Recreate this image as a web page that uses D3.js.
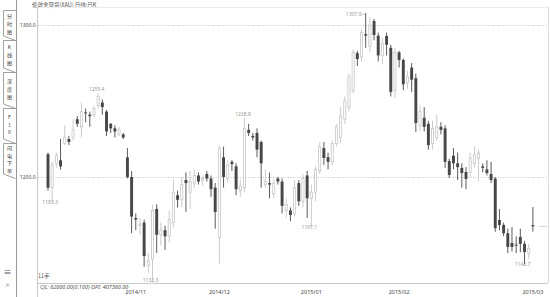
<!DOCTYPE html>
<html><head><meta charset="utf-8">
<script src="https://cdn.jsdelivr.net/npm/d3@7"></script>
<style>
html,body{margin:0;padding:0;background:#fff;}
svg{display:block;font-family:"Noto Sans CJK SC","Noto Sans",sans-serif;}
</style></head><body>
<svg id="c" width="550" height="297"></svg>
<script>
// ---- data (daily candles) ----
const opens = [
 1215,1193,1209,1211,1222,1225,1226,1238,1233,1242.5,
 1241,1241,1247,1249,1243,1235,1232,1228,1228,1213,
 1200,1173,1168,1170,1142,1146,1179,1162,1165,1161,
 1170,1188,1185,1198,1190,1196,1201,1198,1202,1199,
 1193,1160,1213,1199,1210,1207,1191,1193,1231,1227,
 1229,1223,1195,1196,1189,1199,1197,1178,1178,1176,
 1196,1184,1201,1186,1190,1204,1219,1213,1210,1222,
 1226,1238,1246,1257,1281.5,1279,1294,1286,1302.6,1293,
 1280,1292.8,1285,1257,1282,1277,1262,1272,1265,1234,
 1239,1235,1222,1226,1233,1232,1210.5,1214,1209,1206,
 1203.3,1203,1209,1212.5,1207,1205,1202,1199,1171.7,1168.4,
 1163,1156.6,1155.5,1160.5,1156,1150,1168.3];
const highs = [
 1216,1210,1216,1225,1234,1227,1238,1240,1249,1245,
 1243,1247,1255.4,1251,1244,1235.5,1234,1233,1229,1219,
 1204,1176,1173,1172,1150,1182,1182,1170,1168,1178,
 1198,1191,1200,1203,1204,1205,1203,1201,1204,1201,
 1196,1221,1220,1211,1211,1209,1198,1238.8,1235,1229,
 1232,1224,1205,1203,1199,1200,1199,1186,1180,1198,
 1198,1202,1204,1195,1207,1223,1223,1216,1224,1235,
 1246,1253,1268,1284,1283,1297,1307.9,1305,1304,1295,
 1292,1295,1287,1285,1283,1278,1270,1275,1268,1247,
 1246,1237,1237,1241,1236,1234,1212,1219,1216,1209,
 1206.5,1216,1220,1218,1209,1211,1210,1200,1179,1170,
 1166,1167,1161,1166,1158,1156,1180.3];
const lows = [
 1191,1183.3,1206,1205,1221,1221,1224,1233,1226,1236,
 1233,1239,1245,1241,1227,1229,1226,1227,1225,1199,
 1163,1165,1162,1141,1137,1132.3,1150,1155,1152,1157,
 1167,1180,1180,1177,1179,1193,1195,1194,1197,1187,
 1166,1143,1193,1196,1204,1188,1187,1190,1227,1224,
 1213,1193,1193,1186,1186,1195,1176,1173,1171,1174,
 1181,1180,1173,1167.1,1184,1202,1208,1205,1208,1220,
 1222,1235,1243,1255,1273,1276,1285,1282,1290,1276,
 1274,1280,1253,1252,1272,1257,1258,1256,1229.6,1230,
 1230,1218,1218,1224,1228,1206,1199.5,1205,1198,1193,
 1192,1200,1206,1197,1203,1201,1196,1164,1165,1161,
 1150,1151,1150,1150.5,1142.7,1146,1164];
const closes = [
 1193,1208,1214,1207,1226,1223,1231,1235,1243,1242,
 1240,1245,1253,1246,1230,1232,1230,1231,1226,1200,
 1174,1172,1169,1148,1145,1178,1162,1165,1161,1172,
 1190,1185,1195,1196,1197,1201,1197,1199,1199,1192,
 1177,1219,1200,1208,1208.5,1192,1194,1232,1229,1226,
 1218,1209,1197,1195,1196,1197,1181,1182,1175,1193,
 1184,1199,1186,1190,1205,1220,1212.5,1210,1222,1233,
 1240,1250,1266,1282,1277.6,1295,1293,1300,1293.4,1280,
 1288,1287,1256,1282,1277,1261,1266,1264,1235.5,1243,
 1233,1221,1232,1233,1231,1210,1201.3,1209,1206.5,1202.6,
 1198.7,1212.5,1214.5,1215.8,1206,1202.6,1198,1166.4,1168.4,1163,
 1154,1154,1155,1156,1150.7,1153,1167.5];
const tickIdx = [21, 41, 63, 84, 116];
const tickLabels = ["2014/11", "2014/12", "2015/01", "2015/02", "2015/03"];
const yTicks = [1200, 1300];
const markIdx = [1, 12, 25, 47, 63, 76, 114];
const markKind = ["low", "high", "low", "high", "low", "highLeft", "low"];
const tabNames = ["分时图", "K线图", "深度图", "F10", "闪电下单"];
const titleText = "伦敦金现货(XAU) 日线:日K";
const volText = "CJL: 62000.00(0.100)    OPI: 407360.00";
const unitText = "11手";

// ---- layout ----
const svg = d3.select("#c");
const L = 37, R = 548, T = 7, B = 283;
const N = opens.length;
const step = 4.18;
const x = d3.scaleBand().domain(d3.range(N))
  .range([48 - step / 2, 48 - step / 2 + N * step])
  .paddingInner(0.3).paddingOuter(0.15);
const cx = i => x(i) + x.bandwidth() / 2;
const y = d3.scaleLinear().domain([1200, 1300]).range([177, 25]);

const DARK = "#474747", LIGHT = "#c6c6c6";

// left tab panel
svg.append("line").attr("x1", 16.5).attr("x2", 16.5).attr("y1", 0).attr("y2", 297)
  .attr("stroke", "#9a9a9a").attr("stroke-width", 1);
const tabY = [[10, 40], [40, 72], [72, 108], [108, 143], [143, 178]];
tabNames.forEach((name, k) => {
  const [t0, t1] = tabY[k];
  svg.append("path")
    .attr("d", `M16.5,${t0 + 0.5} L3.5,${t0 + 0.5} L3.5,${t1 - 4} L15.5,${t1 + 0.5}`)
    .attr("fill", "none").attr("stroke", "#8a8a8a").attr("stroke-width", 0.8);
  const chars = Array.from(name);
  const sp = 7.6;
  const mid = (t0 + t1) / 2 - 1;
  chars.forEach((ch, j) => {
    svg.append("text").attr("x", 9.5).attr("y", mid + (j - (chars.length - 1) / 2) * sp + 2)
      .attr("text-anchor", "middle").attr("font-size", 5.1).attr("fill", "#3a3a3a").text(ch);
  });
});
svg.append("text").attr("x", 7.5).attr("y", 275).attr("text-anchor", "middle")
  .attr("font-size", 8).attr("fill", "#555").text("≡");
svg.append("text").attr("x", 7.5).attr("y", 287).attr("text-anchor", "middle")
  .attr("font-size", 6).attr("fill", "#777").text("×");

// title
svg.append("text").attr("x", 32).attr("y", 7).attr("font-size", 5.5).attr("fill", "#555").text(titleText);

// frame
svg.append("line").attr("x1", L).attr("x2", R).attr("y1", T + 0.5).attr("y2", T + 0.5).attr("stroke", "#ececec");
svg.append("line").attr("x1", L + 0.5).attr("x2", L + 0.5).attr("y1", T).attr("y2", 297).attr("stroke", "#c8c8c8");
svg.append("line").attr("x1", R + 0.5).attr("x2", R + 0.5).attr("y1", T).attr("y2", B).attr("stroke", "#dcdcdc");
svg.append("line").attr("x1", L).attr("x2", R).attr("y1", B + 0.5).attr("y2", B + 0.5).attr("stroke", "#c8c8c8");

// gridlines
svg.append("g").selectAll("line").data(yTicks).join("line")
  .attr("x1", L + 1).attr("x2", R).attr("y1", d => Math.round(y(d)) + 0.5).attr("y2", d => Math.round(y(d)) + 0.5)
  .attr("stroke", "#c4c4c4").attr("stroke-dasharray", "1,1.5");

// y axis
const ya = svg.append("g").attr("transform", `translate(${L - 0.5},0)`)
  .call(d3.axisLeft(y).tickValues(yTicks).tickSize(0).tickPadding(1).tickFormat(d3.format(".1f")));
ya.select(".domain").remove();
ya.selectAll("text").attr("font-size", 5).attr("fill", "#444").attr("font-family", "Noto Sans, sans-serif");

// x axis
const xa = svg.append("g").attr("transform", `translate(0,${B})`)
  .call(d3.axisBottom(x).tickValues(tickIdx).tickSize(0).tickPadding(7.5).tickFormat((d, i) => tickLabels[i]));
xa.select(".domain").remove();
xa.selectAll("text").attr("font-size", 5.5).attr("fill", "#444").attr("font-family", "Noto Sans, sans-serif");

// candles
const idx = d3.range(N);
const up = i => closes[i] >= opens[i];
const cg = svg.append("g");
cg.selectAll("line.wick").data(idx).join("line").attr("class", "wick")
  .attr("x1", cx).attr("x2", cx).attr("y1", i => y(highs[i])).attr("y2", i => y(lows[i]))
  .attr("stroke", i => up(i) ? LIGHT : DARK).attr("stroke-width", 0.9);
cg.selectAll("rect.body").data(idx).join("rect").attr("class", "body")
  .attr("x", i => up(i) ? x(i) + 0.4 : x(i))
  .attr("width", i => up(i) ? x.bandwidth() - 0.8 : x.bandwidth())
  .attr("y", i => y(Math.max(opens[i], closes[i])))
  .attr("height", i => Math.max(1, Math.abs(y(opens[i]) - y(closes[i]))))
  .attr("fill", i => up(i) ? "#fff" : DARK)
  .attr("stroke", i => up(i) ? LIGHT : "none").attr("stroke-width", 0.8);

// current price stub
svg.append("line").attr("x1", cx(N - 1) + 6).attr("x2", R - 1)
  .attr("y1", y(closes[N - 1])).attr("y2", y(closes[N - 1])).attr("stroke", "#c8c8c8").attr("stroke-width", 0.8);

// extreme labels
const lg = svg.append("g").attr("font-size", 5).attr("fill", "#9a9a9a").attr("font-family", "Noto Sans, sans-serif");
markIdx.forEach((i, k) => {
  const kind = markKind[k];
  if (kind === "high") {
    lg.append("text").attr("x", cx(i) - 1.5).attr("y", y(highs[i]) - 2).attr("text-anchor", "middle").text(highs[i].toFixed(1));
  } else if (kind === "highLeft") {
    lg.append("text").attr("x", cx(i) - 4).attr("y", y(highs[i]) + 3.5).attr("text-anchor", "end").text(highs[i].toFixed(1));
    lg.append("line").attr("x1", cx(i) - 3.5).attr("x2", cx(i) - 0.5)
      .attr("y1", y(highs[i]) + 1.5).attr("y2", y(highs[i]) + 1.5).attr("stroke", "#b0b0b0").attr("stroke-width", 0.6);
  } else {
    lg.append("text").attr("x", cx(i) - 2).attr("y", y(lows[i]) + 2).attr("text-anchor", "middle").text(lows[i].toFixed(1));
  }
});

// bottom texts
svg.append("text").attr("x", 38).attr("y", 278).attr("font-size", 5.5).attr("fill", "#555").text(unitText);
svg.append("text").attr("x", 40).attr("y", 289).attr("font-size", 5.5).attr("fill", "#555")
  .attr("font-style", "italic").attr("font-family", "Noto Sans, sans-serif").text(volText);
</script>
</body></html>
